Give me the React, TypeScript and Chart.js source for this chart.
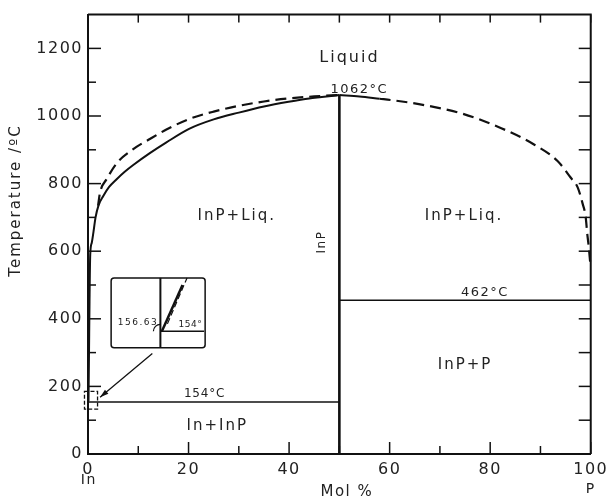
import React, { useEffect, useRef } from 'react';
import { Chart, registerables } from 'chart.js';
Chart.register(...registerables);

// ---------- data (mol % P, temperature °C) ----------
const xMajorTicks = [0, 20, 40, 60, 80, 100];
const xMinorTicks = [10, 30, 50, 70, 90];
const yMajorTicks = [0, 200, 400, 600, 800, 1000, 1200];
const yMinorTicks = [100, 300, 500, 700, 900, 1100];

// solid liquidus, In side
const liqSolidInX = [0.1, 0.2, 0.3, 0.44, 0.75, 1.09, 1.5, 2.08, 3.07, 4.2, 5.7, 7.3, 9.0, 12.3, 15.6, 20.1, 25, 30, 35, 39.9, 44, 46.5, 50];
const liqSolidInT = [156.6, 300, 450, 589, 625, 657, 700, 735, 764, 790, 813, 835, 855, 890, 922, 962, 990, 1010, 1028, 1042, 1052, 1056, 1062];
// dashed liquidus, In side
const liqDashInX = [2.0, 2.4, 3.7, 5.7, 9.0, 12.3, 15.6, 20.1, 25, 30, 35, 39.9, 45, 50];
const liqDashInT = [735, 774, 813, 860, 902, 932, 960, 991, 1013, 1030, 1043, 1052, 1058, 1062];
// solid liquidus near the maximum, P side
const liqSolidPX = [50, 54, 58];
const liqSolidPT = [1062, 1058, 1051];
// dashed liquidus, P side
const liqDashPX = [58, 60.4, 67, 74.2, 82.2, 88.8, 93.4, 96.0, 97.4, 98.4, 99.0, 99.3, 99.6, 99.9];
const liqDashPT = [1051, 1047, 1032, 1008, 964, 915, 867, 818, 789, 740, 701, 653, 614, 565];
// invariant lines
const eutecticX = [0, 50];
const eutecticT = [154, 154];
const peritecticX = [50, 100];
const peritecticT = [455, 455];
const inpX = [50, 50];
const inpT = [0, 1062];

// inset (enlarged view near the In corner), in data coordinates
const insetBoxX = [4.6, 23.3];
const insetBoxT = [314, 521];
const insetDividerX = [14.4, 14.4];
const insetEutX = [14.4, 23.1];
const insetEutT = [363, 363];
const insetLiqSolidX = [14.7, 18.8];
const insetLiqSolidT = [363, 500];
const insetLiqDashX = [15.8, 19.7];
const insetLiqDashT = [385, 521];
const zoomBoxX = [-0.7, 1.9];
const zoomBoxT = [133, 185];
const arrowX = [12.8, 2.4];
const arrowT = [297, 168];

// text labels
const labels = [
  { text: 'Liquid', x: 51.8, t: 1172, size: 16, sp: 2 },
  { text: '1062°C', x: 53.8, t: 1079, size: 13, sp: 1.5 },
  { text: 'InP+Liq.', x: 29.4, t: 705, size: 15, sp: 2 },
  { text: 'InP+Liq.', x: 74.6, t: 705, size: 15, sp: 2 },
  { text: '462°C', x: 78.8, t: 477, size: 13, sp: 1.5 },
  { text: 'InP+P', x: 74.8, t: 264, size: 15, sp: 2 },
  { text: '154°C', x: 23.1, t: 177, size: 12, sp: 0.8 },
  { text: 'In+InP', x: 25.5, t: 83, size: 15, sp: 2 },
  { text: '156.63', x: 9.8, t: 390, size: 9, sp: 1.5 },
  { text: '154°', x: 20.3, t: 384, size: 9, sp: 0.5 },
];

const pts = (xs: number[], ts: number[]) => xs.map((x, i) => ({ x, y: ts[i] }));
const FONT = 'DejaVu Sans';
const INK = '#111';

const overlay = {
  id: 'overlay',
  beforeDraw(chart: any) {
    chart.ctx.letterSpacing = '1.5px';
  },
  afterDraw(chart: any) {
    const { ctx, chartArea: a } = chart;
    const sx = chart.scales.x, sy = chart.scales.y;
    const px = (v: number) => sx.getPixelForValue(v);
    const py = (v: number) => sy.getPixelForValue(v);
    ctx.save();
    ctx.strokeStyle = INK;
    ctx.fillStyle = '#222';
    // frame top/right
    ctx.lineWidth = 2;
    ctx.beginPath();
    ctx.moveTo(a.left, a.top);
    ctx.lineTo(a.right, a.top);
    ctx.lineTo(a.right, a.bottom);
    ctx.stroke();
    // inward ticks
    ctx.lineWidth = 1.5;
    const tick = (x1: number, y1: number, x2: number, y2: number) => {
      ctx.beginPath(); ctx.moveTo(x1, y1); ctx.lineTo(x2, y2); ctx.stroke();
    };
    xMajorTicks.forEach(v => { const p = px(v); tick(p, a.bottom, p, a.bottom - 12); tick(p, a.top, p, a.top + 8); });
    xMinorTicks.forEach(v => { const p = px(v); tick(p, a.bottom, p, a.bottom - 8); tick(p, a.top, p, a.top + 8); });
    yMajorTicks.forEach(v => { const p = py(v); tick(a.left, p, a.left + 13, p); tick(a.right, p, a.right - 12, p); });
    yMinorTicks.forEach(v => { const p = py(v); tick(a.left, p, a.left + 8, p); tick(a.right, p, a.right - 12, p); });

    // inset box
    ctx.lineWidth = 1.5;
    ctx.beginPath();
    const bx = px(insetBoxX[0]), by = py(insetBoxT[1]);
    const bw = px(insetBoxX[1]) - bx, bh = py(insetBoxT[0]) - by;
    ctx.roundRect(bx, by, bw, bh, 3);
    ctx.stroke();
    ctx.lineWidth = 2;
    tick(px(insetDividerX[0]), py(insetBoxT[0]), px(insetDividerX[1]), py(insetBoxT[1]));
    ctx.lineWidth = 1.5;
    tick(px(insetEutX[0]), py(insetEutT[0]), px(insetEutX[1]), py(insetEutT[1]));
    ctx.lineWidth = 2.5;
    tick(px(insetLiqSolidX[0]), py(insetLiqSolidT[0]), px(insetLiqSolidX[1]), py(insetLiqSolidT[1]));
    ctx.lineWidth = 1.2;
    ctx.setLineDash([6, 3]);
    tick(px(insetLiqDashX[0]), py(insetLiqDashT[0]), px(insetLiqDashX[1]), py(insetLiqDashT[1]));
    ctx.setLineDash([]);
    // small arc near the inset junction
    ctx.lineWidth = 1.2;
    ctx.beginPath();
    ctx.arc(px(insetEutX[0]), py(insetEutT[0]), 7, Math.PI, Math.PI * 1.5);
    ctx.stroke();
    // small dashed square near origin
    ctx.lineWidth = 1.3;
    ctx.setLineDash([4, 2]);
    ctx.strokeRect(px(zoomBoxX[0]), py(zoomBoxT[1]), px(zoomBoxX[1]) - px(zoomBoxX[0]), py(zoomBoxT[0]) - py(zoomBoxT[1]));
    ctx.setLineDash([]);
    // arrow
    const ax1 = px(arrowX[0]), ay1 = py(arrowT[0]), ax2 = px(arrowX[1]), ay2 = py(arrowT[1]);
    ctx.lineWidth = 1.3;
    tick(ax1, ay1, ax2, ay2);
    const ang = Math.atan2(ay2 - ay1, ax2 - ax1);
    ctx.beginPath();
    ctx.moveTo(ax2, ay2);
    ctx.lineTo(ax2 - 9 * Math.cos(ang - 0.3), ay2 - 9 * Math.sin(ang - 0.3));
    ctx.lineTo(ax2 - 9 * Math.cos(ang + 0.3), ay2 - 9 * Math.sin(ang + 0.3));
    ctx.closePath();
    ctx.fillStyle = INK;
    ctx.fill();

    // texts
    ctx.fillStyle = '#222';
    ctx.textAlign = 'center';
    ctx.textBaseline = 'middle';
    labels.forEach(l => {
      ctx.font = `${l.size}px "${FONT}"`;
      ctx.letterSpacing = `${l.sp}px`;
      ctx.fillText(l.text, px(l.x) + l.sp / 2, py(l.t));
    });
    // InP rotated
    ctx.save();
    ctx.font = `12px "${FONT}"`;
    ctx.letterSpacing = '1.5px';
    ctx.translate(px(46.5), py(625));
    ctx.rotate(-Math.PI / 2);
    ctx.fillText('InP', 0.75, 0);
    ctx.restore();
    // axis words
    ctx.font = `14px "${FONT}"`;
    ctx.letterSpacing = '1.5px';
    ctx.fillText('In', px(0) + 0.75, 480);
    ctx.fillText('P', px(100), 489);
    ctx.font = `15px "${FONT}"`;
    ctx.letterSpacing = '1.5px';
    ctx.fillText('Mol %', px(51.5), 492);
    ctx.save();
    ctx.font = `15px "${FONT}"`;
    ctx.letterSpacing = '2px';
    ctx.translate(16, py(750));
    ctx.rotate(-Math.PI / 2);
    ctx.fillText('Temperature /ºC', 0, 0);
    ctx.restore();
    ctx.restore();
  },
};

const lineDs = (xs: number[], ts: number[], width: number, dash: number[] = []) => ({
  data: pts(xs, ts),
  showLine: true,
  borderColor: INK,
  borderWidth: width,
  borderDash: dash,
  pointRadius: 0,
  cubicInterpolationMode: 'monotone' as const,
  clip: false as const,
});

export default function App() {
  const ref = useRef<HTMLCanvasElement>(null);
  useEffect(() => {
    if (!ref.current) return;
    const chart = new Chart(ref.current, {
      type: 'scatter',
      data: {
        datasets: [
          lineDs(liqSolidInX, liqSolidInT, 2),
          lineDs(liqDashInX, liqDashInT, 2.2, [11, 6]),
          lineDs(liqSolidPX, liqSolidPT, 2),
          lineDs(liqDashPX, liqDashPT, 2.2, [11, 6]),
          lineDs(eutecticX, eutecticT, 1.6),
          lineDs(peritecticX, peritecticT, 1.4),
          lineDs(inpX, inpT, 2.6),
        ],
      },
      options: {
        responsive: false,
        animation: false,
        events: [],
        layout: { padding: { top: 10, right: 19, left: 0, bottom: 0 } },
        plugins: { legend: { display: false }, tooltip: { enabled: false } },
        scales: {
          x: {
            type: 'linear',
            min: 0,
            max: 100,
            grid: { display: false, drawTicks: false },
            border: { display: true, width: 2, color: INK },
            ticks: { stepSize: 20, padding: 6, color: '#222', maxRotation: 0, font: { family: FONT, size: 16 }, callback: (v: any) => String(v) },
            afterFit: (s: any) => { s.height = 48; },
          },
          y: {
            type: 'linear',
            min: 0,
            max: 1300,
            grid: { display: false, drawTicks: false },
            border: { display: true, width: 2, color: INK },
            ticks: { stepSize: 200, includeBounds: false, padding: 5, color: '#222', font: { family: FONT, size: 16 }, callback: (v: any) => String(v) },
            afterFit: (s: any) => { s.width = 88; },
          },
        },
      },
      plugins: [overlay],
    });
    return () => chart.destroy();
  }, []);
  return (
    <div style={{ position: 'fixed', left: 0, top: 0, width: 612, height: 502, background: '#fff' }}>
      <canvas ref={ref} width={612} height={502} style={{ display: 'block' }} />
    </div>
  );
}
